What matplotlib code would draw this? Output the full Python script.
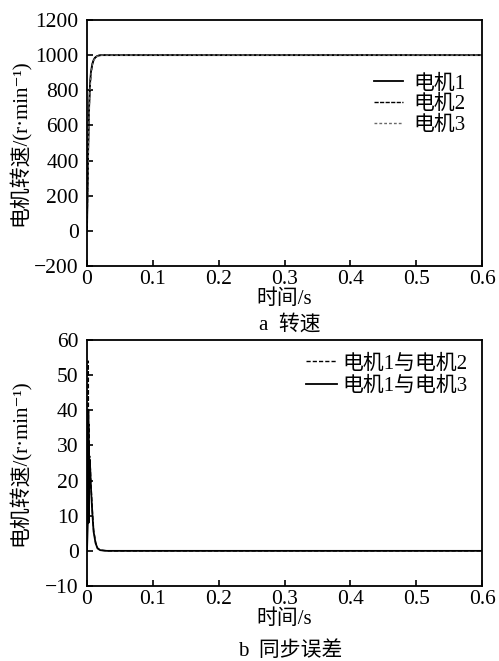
import matplotlib
matplotlib.use("Agg")
import matplotlib.pyplot as plt
import numpy as np

plt.rcParams['font.family'] = ['Liberation Serif', 'Noto Sans CJK SC', 'DejaVu Serif']

# (a) motor speed, r/min
t_speed = [0, 0.001, 0.002, 0.003, 0.004, 0.005, 0.006, 0.008, 0.010, 0.012, 0.015, 0.018, 0.022, 0.03, 0.6]
speed_m1 = [0, 250, 500, 680, 790, 860, 905, 950, 972, 985, 994, 998, 1000, 1000, 1000]
speed_m2 = [0, 230, 470, 650, 770, 845, 895, 945, 970, 984, 993, 998, 1000, 1000, 1000]
speed_m3 = [0, 210, 440, 620, 750, 830, 885, 940, 967, 982, 992, 997, 1000, 1000, 1000]

# (b) synchronisation error, r/min
t_err = [0, 0.0015, 0.002, 0.0025, 0.003, 0.0035, 0.004, 0.005, 0.006, 0.008, 0.010, 0.013, 0.016, 0.02, 0.03, 0.6]
err_12 = [0, 20, 54, 12, 36, 20, 27, 24, 19, 12, 6, 2.5, 0.8, 0.2, 0, 0]
err_13 = [0, 10, 40, 8, 30, 18, 26, 23, 18, 11, 5.5, 2.2, 0.7, 0.2, 0, 0]

fs = 15
ylab = '电机转速/(r·min\u207b\u00b9)'

fig = plt.figure(figsize=(4.99, 6.61), dpi=100)
ax1 = fig.add_axes([87 / 499, 1 - 266 / 661, 395 / 499, 246 / 661])
ax2 = fig.add_axes([87 / 499, 1 - 586 / 661, 395 / 499, 246 / 661])

ax1.plot(t_speed, speed_m1, color='black', lw=1.3, ls='-', label='电机1')
ax1.plot(t_speed, speed_m2, color='black', lw=1.0, ls=(0, (3, 1)), label='电机2')
ax1.plot(t_speed, speed_m3, color='dimgray', lw=1.0, ls=(0, (2, 1.5)), label='电机3')
ax1.set_xlim(0, 0.6)
ax1.set_ylim(-200, 1200)
ax1.set_yticks(np.arange(-200, 1201, 200))
ax1.set_yticklabels(['\u2212200' if v < 0 else str(v) for v in range(-200, 1201, 200)])
ax1.legend(loc='upper right', bbox_to_anchor=((466 - 87) / 395, (266 - 74) / 246),
           borderaxespad=0, borderpad=0, frameon=False, fontsize=fs,
           handlelength=1.4, handletextpad=0.5, labelspacing=0.05)
ax1.set_xlabel('时间/s', fontsize=fs, labelpad=0)
ax1.set_ylabel(ylab, fontsize=fs)

ax2.plot(t_err, err_12, color='black', lw=1.0, ls=(0, (3, 1.5)), label='电机1与电机2')
ax2.plot(t_err, err_13, color='black', lw=1.3, ls='-', label='电机1与电机3')
ax2.set_xlim(0, 0.6)
ax2.set_ylim(-10, 60)
ax2.set_yticks(np.arange(-10, 61, 10))
ax2.set_yticklabels(['\u221210' if v < 0 else str(v) for v in range(-10, 61, 10)])
ax2.legend(loc='upper right', bbox_to_anchor=((468 - 87) / 395, (586 - 354) / 246),
           borderaxespad=0, borderpad=0, frameon=False, fontsize=fs,
           handlelength=1.45, handletextpad=0.3, labelspacing=0.15)
ax2.set_xlabel('时间/s', fontsize=fs, labelpad=0)
ax2.set_ylabel(ylab, fontsize=fs)

for ax in (ax1, ax2):
    ax.set_xticks(np.arange(0, 0.61, 0.1))
    ax.set_xticklabels(['0', '0.1', '0.2', '0.3', '0.4', '0.5', '0.6'])
    ax.tick_params(direction='in', length=4, width=1.2, labelsize=15.5, top=False, right=False)
    ax.tick_params(axis='y', pad=6)
    ax.tick_params(axis='x', pad=3)
    ax.yaxis.set_label_coords((31 - 87) / 395, 0.5)
    for s in ax.spines.values():
        s.set_linewidth(1.3)

fig.text(290 / 499, 1 - 325 / 661, 'a  转速', ha='center', va='center', fontsize=fs)
fig.text(290 / 499, 1 - 651 / 661, 'b  同步误差', ha='center', va='center', fontsize=fs)

fig.savefig('out.png', dpi=100)
